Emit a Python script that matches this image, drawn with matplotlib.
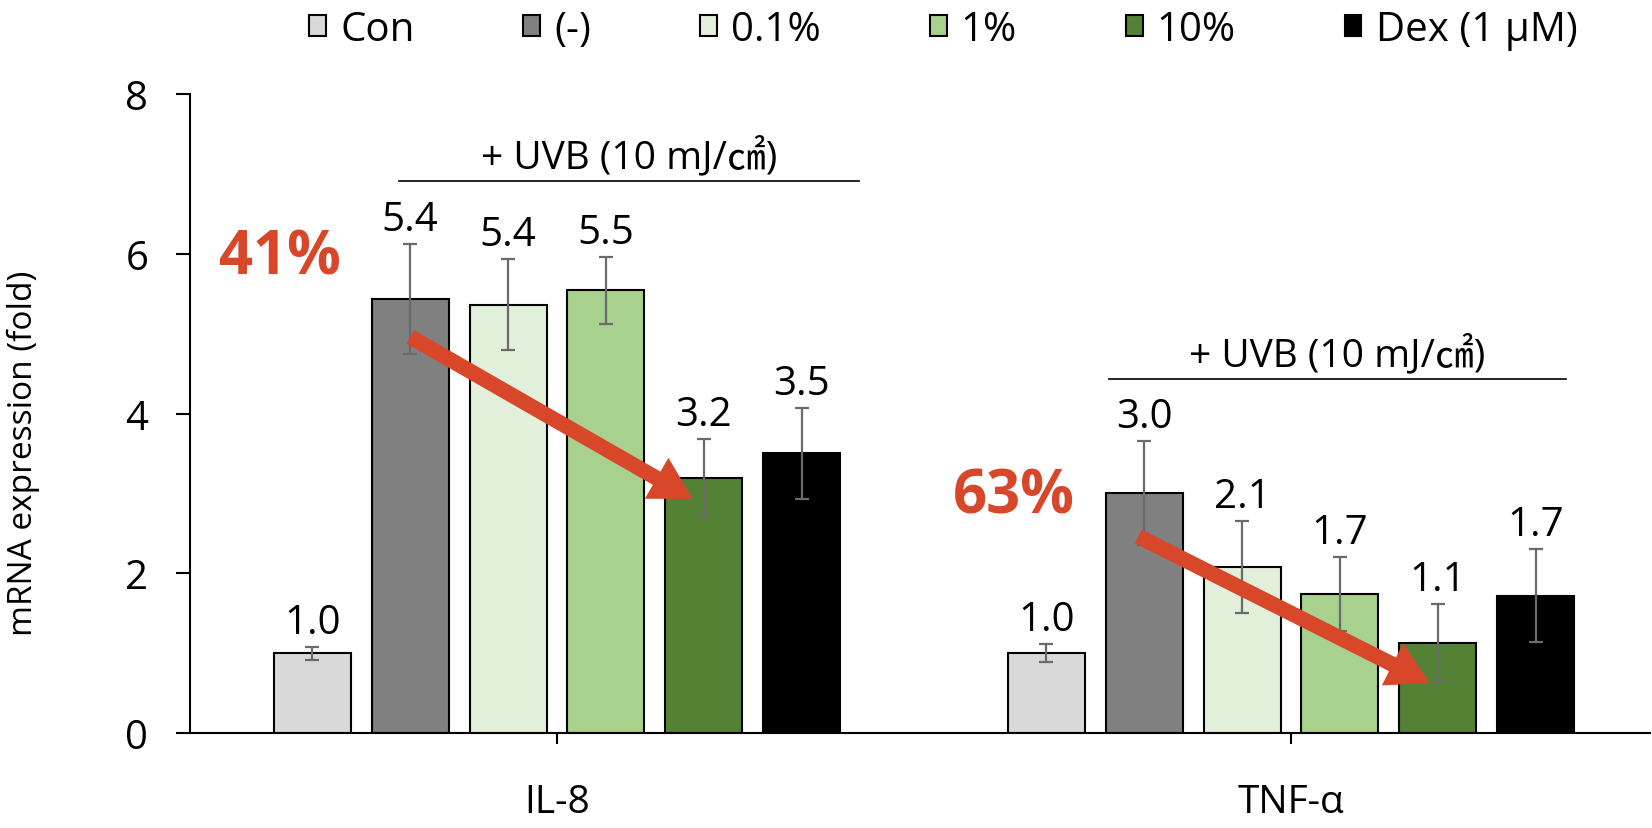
import matplotlib
matplotlib.use('Agg')
import matplotlib.pyplot as plt
import numpy as np

plt.rcParams['font.family'] = ['Open Sans', 'Noto Sans CJK KR', 'DejaVu Sans']

genes = ['IL-8', 'TNF-α']
groups = ['Con', '(-)', '0.1%', '1%', '10%', 'Dex (1 μM)']
colors = ['#D9D9D9', '#808080', '#E2EFDA', '#A9D18E', '#548235', '#000000']

il8_mean = [1.0, 5.43, 5.36, 5.54, 3.19, 3.50]
il8_err = [0.08, 0.69, 0.57, 0.42, 0.49, 0.57]
tnf_mean = [1.0, 3.0, 2.08, 1.74, 1.13, 1.72]
tnf_err = [0.11, 0.65, 0.58, 0.46, 0.49, 0.58]

reductions = ['41%', '63%']
uvb_label = '+ UVB (10 mJ/㎠)'

means = [il8_mean, tnf_mean]
errs = [il8_err, tnf_err]

fig = plt.figure(figsize=(16.52, 8.29), dpi=100)
ax = fig.add_axes([190 / 1652, 95 / 829, 1460 / 1652, 639 / 829])

pitch = 0.1333
width = 0.105
offsets = (np.arange(len(groups)) - 2.5) * pitch
red = '#D9472B'

for g in range(len(genes)):
    xs = g + offsets
    for i, name in enumerate(groups):
        ax.bar(xs[i], means[g][i], width=width, color=colors[i], edgecolor='black',
               linewidth=1.5, label=name if g == 0 else None, zorder=2)
    ax.errorbar(xs, means[g], yerr=errs[g], fmt='none', ecolor='#6A6A6A',
                elinewidth=1.6, capsize=5, capthick=1.6, zorder=3)
    for i in range(len(groups)):
        top = means[g][i] + errs[g][i]
        ax.text(xs[i], top + 0.05, f'{means[g][i]:.1f}', ha='center', va='bottom',
                fontsize=29, zorder=4)

# UVB brackets
ax.plot([-0.215, 0.411], [6.91, 6.91], color='black', lw=1.2, clip_on=False)
ax.text(0.098, 6.97, uvb_label, ha='center', va='bottom', fontsize=28)
ax.plot([0.752, 1.375], [4.43, 4.43], color='black', lw=1.2, clip_on=False)
ax.text(1.063, 4.49, uvb_label, ha='center', va='bottom', fontsize=28)

# arrows
ax.annotate('', xy=(0.185, 2.93), xytext=(offsets[1], 4.96),
            arrowprops=dict(width=11, headwidth=34, headlength=30, color=red, lw=0),
            zorder=5)
ax.annotate('', xy=(1.189, 0.625), xytext=(1 + offsets[1] - 0.008, 2.46),
            arrowprops=dict(width=11, headwidth=34, headlength=30, color=red, lw=0),
            zorder=5)
ax.text(-0.377, 5.95, reductions[0], color=red, fontsize=43, fontweight='bold',
        ha='center', va='center')
ax.text(0.623, 2.96, reductions[1], color=red, fontsize=43, fontweight='bold',
        ha='center', va='center')

ax.set_xlim(-0.5, -0.5 + 1460 / 734)
ax.set_ylim(0, 8)
ax.set_yticks([0, 2, 4, 6, 8])
ax.set_xticks([0, 1])
ax.set_xticklabels(genes)
ax.spines['top'].set_visible(False)
ax.spines['right'].set_visible(False)
for s in ['left', 'bottom']:
    ax.spines[s].set_linewidth(1.5)
ax.tick_params(axis='y', labelsize=29, length=10, width=1.5, pad=20)
ax.tick_params(axis='x', labelsize=28, length=8, width=1.5, pad=28)
ax.set_ylabel('mRNA expression (fold)', fontsize=24)
ax.yaxis.set_label_coords(-0.103, 0.44)

fig.legend(loc='center', bbox_to_anchor=(0.571, 0.963), ncol=6, frameon=False,
           fontsize=29, handlelength=0.42, handleheight=0.42, handletextpad=0.35,
           columnspacing=2.7)

fig.savefig('out.png', dpi=100)
